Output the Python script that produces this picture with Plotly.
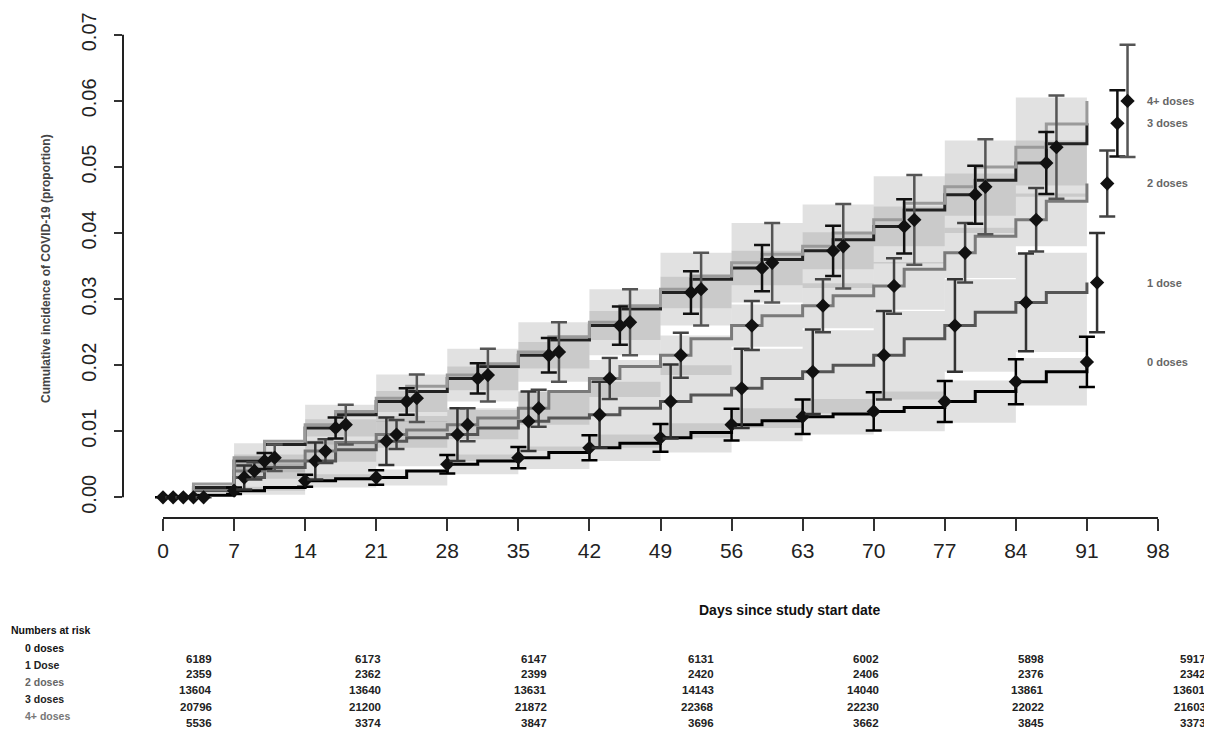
import plotly.graph_objects as go

# ---------------- data ----------------
# step-curve grid (days since study start)
days = [0, 3, 7, 10, 14, 17, 21, 24, 28, 31, 35, 38, 42, 45, 49, 52, 56, 59, 63, 66, 70, 73, 77, 80, 84, 87, 91]
week_days = [0, 7, 14, 21, 28, 35, 42, 49, 56, 63, 70, 77, 84, 91]

groups = ["0 doses", "1 dose", "2 doses", "3 doses", "4+ doses"]

inc_0 = [0, 0.0003, 0.001, 0.0015, 0.0025, 0.0028, 0.003, 0.004, 0.005, 0.0055, 0.006, 0.0068, 0.0075, 0.0082,
         0.009, 0.0098, 0.011, 0.0116, 0.0122, 0.0126, 0.013, 0.0136, 0.0145, 0.016, 0.0175, 0.019, 0.0205]
inc_1 = [0, 0.001, 0.003, 0.0045, 0.0055, 0.0072, 0.0085, 0.009, 0.0095, 0.0105, 0.0115, 0.012, 0.0125, 0.0135,
         0.0145, 0.0155, 0.0165, 0.018, 0.019, 0.020, 0.0215, 0.024, 0.026, 0.028, 0.0295, 0.031, 0.0325]
inc_2 = [0, 0.0012, 0.004, 0.0055, 0.007, 0.0083, 0.0095, 0.0102, 0.011, 0.012, 0.0135, 0.016, 0.018, 0.0198,
         0.0215, 0.024, 0.026, 0.0275, 0.029, 0.0305, 0.032, 0.0345, 0.037, 0.0395, 0.042, 0.0448, 0.0475]
inc_3 = [0, 0.0015, 0.0055, 0.008, 0.0105, 0.0125, 0.0145, 0.016, 0.018, 0.0198, 0.0215, 0.0238, 0.026, 0.0285,
         0.031, 0.033, 0.0347, 0.036, 0.0373, 0.039, 0.041, 0.0435, 0.0458, 0.048, 0.0506, 0.0535, 0.0566]
inc_4 = [0, 0.002, 0.006, 0.0085, 0.011, 0.013, 0.015, 0.0168, 0.0185, 0.0202, 0.022, 0.0243, 0.0265, 0.029,
         0.0315, 0.0335, 0.0355, 0.0368, 0.038, 0.040, 0.042, 0.0445, 0.047, 0.050, 0.053, 0.0565, 0.060]

# weekly confidence-band half widths
band_0 = [0, 0.0006, 0.001, 0.0012, 0.0015, 0.0017, 0.002, 0.0022, 0.0025, 0.0027, 0.003, 0.0032, 0.0036, 0.004]
band_1 = [0, 0.002, 0.003, 0.0038, 0.004, 0.0045, 0.005, 0.0055, 0.006, 0.0063, 0.0067, 0.007, 0.0075, 0.008]
band_2 = [0, 0.0012, 0.0016, 0.002, 0.0022, 0.0025, 0.0028, 0.003, 0.0032, 0.0034, 0.0036, 0.0038, 0.004, 0.0042]
band_3 = [0, 0.001, 0.0013, 0.0016, 0.0018, 0.002, 0.0022, 0.0024, 0.0026, 0.0028, 0.003, 0.0032, 0.0034, 0.0036]
band_4 = [0, 0.0022, 0.003, 0.0036, 0.004, 0.0045, 0.005, 0.0055, 0.006, 0.0063, 0.0066, 0.007, 0.0075, 0.008]

# weekly point-estimate error bar half widths
err_0 = [0, 0.0005, 0.0009, 0.0011, 0.0014, 0.0016, 0.0019, 0.0021, 0.0024, 0.0026, 0.0029, 0.0031, 0.0034, 0.0038]
err_1 = [0, 0.0018, 0.0028, 0.0036, 0.004, 0.0045, 0.005, 0.0056, 0.006, 0.0064, 0.0067, 0.007, 0.0074, 0.0075]
err_2 = [0, 0.0013, 0.0018, 0.0022, 0.0025, 0.0028, 0.0031, 0.0034, 0.0037, 0.004, 0.0042, 0.0045, 0.0048, 0.005]
err_3 = [0, 0.0012, 0.0016, 0.002, 0.0023, 0.0026, 0.0029, 0.0032, 0.0035, 0.0038, 0.0041, 0.0044, 0.0047, 0.005]
err_4 = [0, 0.002, 0.003, 0.0036, 0.004, 0.0045, 0.005, 0.0055, 0.006, 0.0064, 0.0068, 0.0072, 0.0078, 0.0085]

# horizontal dodge (days) of each group's point estimates
pt_offset = [0, 1, 2, 3, 4]

risk_rows = ["0 doses", "1 Dose", "2 doses", "3 doses", "4+ doses"]
risk_0 = [6189, 6173, 6147, 6131, 6002, 5898, 5917]
risk_1 = [2359, 2362, 2399, 2420, 2406, 2376, 2342]
risk_2 = [13604, 13640, 13631, 14143, 14040, 13861, 13601]
risk_3 = [20796, 21200, 21872, 22368, 22230, 22022, 21603]
risk_4 = [5536, 3374, 3847, 3696, 3662, 3845, 3373]

x_ticks = list(range(0, 99, 7))
y_ticks = [0.00, 0.01, 0.02, 0.03, 0.04, 0.05, 0.06, 0.07]

# ---------------- layout geometry ----------------
# page body has an 8px default margin, so the figure is drawn 8px smaller
OFF = 8
W, H = 1212 - OFF, 749 - OFF
ML, MR, MT, MB = 115, 7, 5, 231
X_RANGE = [-3.94, 102.63]
Y_RANGE = [-0.003128, 0.07209]


def sx(px):  # screen x -> paper x
    return (px - OFF - ML) / (W - ML - MR)


def sy(py):  # screen y -> paper y
    return (H - MB - (py - OFF)) / (H - MT - MB)


FONT = "Liberation Sans"
line_cols = ["#000000", "#555555", "#7a7a7a", "#222222", "#9a9a9a"]
err_cols = ["#000000", "#333333", "#444444", "#111111", "#555555"]
band_col = "rgba(140,140,140,0.26)"

incs = [inc_0, inc_1, inc_2, inc_3, inc_4]
bands = [band_0, band_1, band_2, band_3, band_4]
errs = [err_0, err_1, err_2, err_3, err_4]

fig = go.Figure()

for g, inc, bw in zip(groups, incs, bands):
    wk = inc[::2]
    lo = [max(v - c, 0) for v, c in zip(wk, bw)]
    hi = [v + c for v, c in zip(wk, bw)]
    fig.add_trace(go.Scatter(x=week_days, y=lo, mode="lines", line=dict(width=0, shape="hv"),
                             showlegend=False, hoverinfo="skip"))
    fig.add_trace(go.Scatter(x=week_days, y=hi, mode="lines", line=dict(width=0, shape="hv"),
                             fill="tonexty", fillcolor=band_col, showlegend=False, hoverinfo="skip"))

for g, inc, lc in zip(groups, incs, line_cols):
    fig.add_trace(go.Scatter(x=days, y=inc, mode="lines", line=dict(color=lc, width=3, shape="hv"),
                             name=g, showlegend=False))

for g, inc, er, ec, off in zip(groups, incs, errs, err_cols, pt_offset):
    fig.add_trace(go.Scatter(
        x=[d + off for d in week_days], y=inc[::2], mode="markers",
        marker=dict(symbol="diamond", size=11, color="#111111"),
        error_y=dict(type="data", array=er, arrayminus=er, visible=True,
                     color=ec, thickness=2.5, width=8),
        showlegend=False, cliponaxis=False))

# R-style detached axis lines spanning first..last tick
fig.add_shape(type="line", xref="x", yref="paper", x0=x_ticks[0], x1=x_ticks[-1], y0=0, y1=0,
              line=dict(color="#222", width=2))
fig.add_shape(type="line", xref="paper", yref="y", x0=0, x1=0, y0=y_ticks[0], y1=y_ticks[-1],
              line=dict(color="#222", width=2))

annotations = []
for g, inc in zip(groups, incs):
    annotations.append(dict(x=96.7, y=inc[-1], xref="x", yref="y", text="<b>" + g + "</b>",
                            showarrow=False, xanchor="left",
                            font=dict(size=11, color="#666", family=FONT)))

annotations.append(dict(x=sx(37), y=sy(265), xref="paper", yref="paper", textangle=-90,
                        text="<b>Cumulative incidence of COVID-19 (proportion)</b>", showarrow=False,
                        font=dict(size=12, color="#444", family=FONT)))

annotations.append(dict(x=sx(790), y=sy(622), xref="paper", yref="paper",
                        text="<b>Days since study start date</b>", showarrow=False,
                        font=dict(size=14, color="#111", family=FONT)))

annotations.append(dict(x=sx(9), y=sy(640), xref="paper", yref="paper",
                        text="<b>Numbers at risk</b>", showarrow=False, xanchor="left",
                        font=dict(size=10.5, color="#111", family=FONT)))
row_py = [658, 676, 693, 710, 727]
row_cols = ["#111", "#222", "#666", "#222", "#777"]
for r, py, rc in zip(risk_rows, row_py, row_cols):
    annotations.append(dict(x=sx(23), y=sy(py), xref="paper", yref="paper",
                            text="<b>" + r + "</b>", showarrow=False, xanchor="left",
                            font=dict(size=10.5, color=rc, family=FONT)))

col_px = [213, 382, 548, 715, 880, 1045, 1207]
num_py = [668, 684, 700, 717, 733]
risks = [risk_0, risk_1, risk_2, risk_3, risk_4]
for vals, py in zip(risks, num_py):
    for cx, v in zip(col_px, vals):
        annotations.append(dict(x=sx(cx), y=sy(py), xref="paper", yref="paper",
                                text="<b>%d</b>" % v, showarrow=False, xanchor="right",
                                borderpad=0,
                                font=dict(size=11.5, color="#222", family=FONT)))

fig.update_layout(
    width=W, height=H,
    margin=dict(l=ML, r=MR, t=MT, b=MB),
    paper_bgcolor="white", plot_bgcolor="white",
    font=dict(family=FONT, color="#222"),
    annotations=annotations,
    xaxis=dict(range=X_RANGE, tickmode="array", tickvals=x_ticks, ticks="outside", ticklen=12,
               tickwidth=2, tickcolor="#333", showline=False, showgrid=False, zeroline=False,
               tickfont=dict(size=21, color="#222"), ticklabelstandoff=2),
    yaxis=dict(range=Y_RANGE, tickmode="array", tickvals=y_ticks,
               ticktext=["%.2f" % t for t in y_ticks], ticks="outside", ticklen=8,
               tickwidth=2, tickcolor="#333", showline=False, showgrid=False, zeroline=False,
               tickangle=-90, tickfont=dict(size=20, color="#222"), ticklabelstandoff=10,
               ticklabeloverflow="allow"),
)

fig.write_html("out.html")
